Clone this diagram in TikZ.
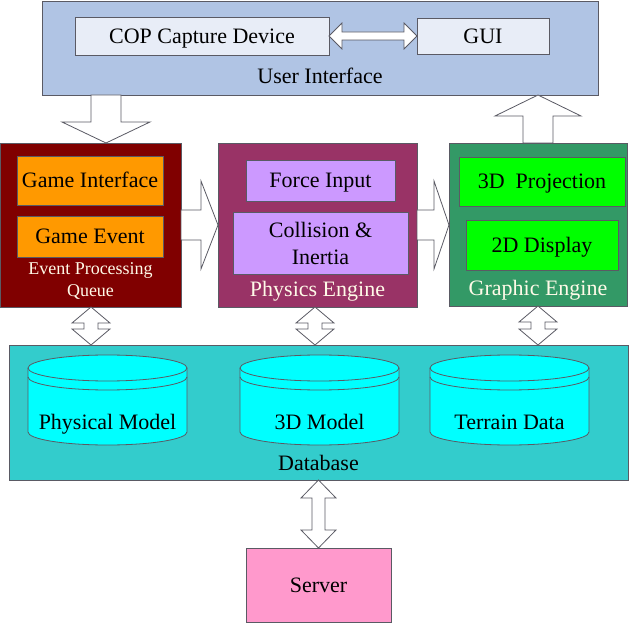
\documentclass[tikz,border=0pt]{standalone}
\usepackage{fontspec}
\setmainfont{Liberation Serif}
\usetikzlibrary{calc}
\definecolor{uiblue}{RGB}{176,196,228}
\definecolor{uilight}{RGB}{232,237,247}
\definecolor{epqred}{RGB}{128,0,0}
\definecolor{orangebox}{RGB}{255,153,0}
\definecolor{pepurple}{RGB}{153,51,102}
\definecolor{lav}{RGB}{204,153,255}
\definecolor{gegreen}{RGB}{51,153,102}
\definecolor{brightgreen}{RGB}{0,255,0}
\definecolor{dbteal}{RGB}{51,204,204}
\definecolor{cyanfill}{RGB}{0,255,255}
\definecolor{serverpink}{RGB}{255,153,204}
\definecolor{labelwhite}{RGB}{255,250,232}
\definecolor{edge}{RGB}{90,90,100}

\newcommand\vdbl[5]{% top, bottom, head half, shaft half, head length
  \draw[blk] let \p1=(#1), \p2=(#2) in
    (\x1,\y1) -- (\x1+#3pt,\y1-#5pt) -- (\x1+#4pt,\y1-#5pt) -- (\x1+#4pt,\y2+#5pt)
    -- (\x1+#3pt,\y2+#5pt) -- (\x1,\y2) -- (\x1-#3pt,\y2+#5pt) -- (\x1-#4pt,\y2+#5pt)
    -- (\x1-#4pt,\y1-#5pt) -- (\x1-#3pt,\y1-#5pt) -- cycle;}
\newcommand\hdbl[5]{% left, right, head half, shaft half, head length
  \draw[blk] let \p1=(#1), \p2=(#2) in
    (\x1,\y1) -- (\x1+#5pt,\y1+#3pt) -- (\x1+#5pt,\y1+#4pt) -- (\x2-#5pt,\y1+#4pt)
    -- (\x2-#5pt,\y1+#3pt) -- (\x2,\y1) -- (\x2-#5pt,\y1-#3pt) -- (\x2-#5pt,\y1-#4pt)
    -- (\x1+#5pt,\y1-#4pt) -- (\x1+#5pt,\y1-#3pt) -- cycle;}
\newcommand\vsgl[5]{% start (base), tip, head half, shaft half, head length (sign by direction)
  \draw[blk] let \p1=(#1), \p2=(#2), \n1={sign(\y2-\y1)} in
    (\x1-#4pt,\y1) -- (\x1-#4pt,\y2-\n1*#5pt) -- (\x1-#3pt,\y2-\n1*#5pt) -- (\x1,\y2)
    -- (\x1+#3pt,\y2-\n1*#5pt) -- (\x1+#4pt,\y2-\n1*#5pt) -- (\x1+#4pt,\y1) -- cycle;}
\newcommand\hsgl[5]{% start (base), tip, head half, shaft half, head length
  \draw[blk] let \p1=(#1), \p2=(#2) in
    (\x1,\y1+#4pt) -- (\x2-#5pt,\y1+#4pt) -- (\x2-#5pt,\y1+#3pt) -- (\x2,\y1)
    -- (\x2-#5pt,\y1-#3pt) -- (\x2-#5pt,\y1-#4pt) -- (\x1,\y1-#4pt) -- cycle;}
\newcommand\dbcyl[3]{% name, center x, label
  \path[fill=cyanfill, draw=edge, line width=0.8pt]
    (#2-79.5,368) -- (#2-79.5,432)
    arc[start angle=180, end angle=360, x radius=79.5pt, y radius=13pt]
    -- (#2+79.5,368)
    arc[start angle=0, end angle=180, x radius=79.5pt, y radius=13pt] -- cycle;
  \draw[edge, line width=0.8pt] (#2-79.5,368)
    arc[start angle=180, end angle=360, x radius=79.5pt, y radius=13pt];
  \draw[edge, line width=0.8pt] (#2-79.5,377)
    arc[start angle=180, end angle=360, x radius=79.5pt, y radius=13pt];
  \node[lbl] (#1) at (#2,422) {#3};}

\begin{document}
\begin{tikzpicture}[x=1pt, y=-1pt,
  frame/.style={draw=edge, line width=0.8pt, inner sep=0pt, outer sep=0pt},
  lbl/.style={inner sep=0pt, font=\fontsize{22}{27}\selectfont, text height=14.6pt, text depth=0pt},
  mlbl/.style={inner sep=0pt, align=center, font=\fontsize{22}{27}\selectfont},
  slbl/.style={inner sep=0pt, align=center, font=\fontsize{18}{21}\selectfont, text=labelwhite},
  blk/.style={draw=edge, fill=white, line width=0.8pt, line join=miter}]
\useasboundingbox (0,0) rectangle (630,623);

% User interface
\node[frame, fill=uiblue, minimum width=556pt, minimum height=94pt] (ui) at (320,48) {};
\node[frame, fill=uilight, minimum width=254pt, minimum height=38pt] (cop) at (202,36) {};
\node[lbl] (coplbl) at (cop.center) {COP Capture Device};
\node[frame, fill=uilight, minimum width=132pt, minimum height=36pt] (gui) at (483,36) {};
\node[lbl] (guilbl) at (gui.center) {GUI};
\node[lbl] (uilbl) at (320,76) {User Interface};
\hdbl{cop.east}{gui.west}{13}{4}{13}

% Event processing queue
\node[frame, fill=epqred, minimum width=181pt, minimum height=164pt] (epq) at (90.5,225) {};
\node[frame, fill=orangebox, minimum width=146pt, minimum height=49pt] (gi) at (90,180.5) {};
\node[lbl] (gilbl) at (gi.center) {Game Interface};
\node[frame, fill=orangebox, minimum width=146pt, minimum height=41pt] (ge1) at (90,236.5) {};
\node[lbl] (ge1lbl) at (ge1.center) {Game Event};
\node[slbl] (epqlbl) at (90.5,281) {Event Processing\\Queue};

% Physics engine
\node[frame, fill=pepurple, minimum width=199pt, minimum height=164pt] (pe) at (317.5,225) {};
\node[frame, fill=lav, minimum width=149pt, minimum height=41pt] (fi) at (320.5,180.5) {};
\node[lbl] (filbl) at (fi.center) {Force Input};
\node[frame, fill=lav, minimum width=175pt, minimum height=62pt] (ci) at (320.5,243) {};
\node[mlbl] (cilbl) at (ci.center) {Collision \&\\Inertia};
\node[lbl, text=labelwhite] (pelbl) at (317.5,289) {Physics Engine};

% Graphic engine
\node[frame, fill=gegreen, minimum width=178pt, minimum height=163pt] (gre) at (538,224.5) {};
\node[frame, fill=brightgreen, minimum width=166pt, minimum height=49pt] (pj) at (542,181.5) {};
\node[lbl] (pjlbl) at (pj.center) {3D\ \ Projection};
\node[frame, fill=brightgreen, minimum width=152pt, minimum height=50pt] (dd) at (542,245) {};
\node[lbl] (ddlbl) at (dd.center) {2D Display};
\node[lbl, text=labelwhite] (grelbl) at (538,288) {Graphic Engine};

% Database
\node[frame, fill=dbteal, minimum width=619pt, minimum height=135pt] (db) at (318.5,412.5) {};
\dbcyl{pm}{107.5}{Physical Model}
\dbcyl{tm}{319.5}{3D Model}
\dbcyl{td}{509.5}{Terrain Data}
\node[lbl] (dblbl) at (318.5,463) {Database};

% Server
\node[frame, fill=serverpink, minimum width=145pt, minimum height=74pt] (srv) at (318.5,585) {};
\node[lbl] (srvlbl) at (srv.center) {Server};

% Block arrows
\coordinate (dtop) at (106,95);
\coordinate (dtip) at (106,143);
\vsgl{dtop}{dtip}{44}{15}{21}
\vsgl{gre.north}{gre.north |- ui.south}{43}{15}{21}
\hsgl{epq.east}{pe.west}{44}{15}{17}
\hsgl{pe.east}{gre.west}{44}{15}{15}
\coordinate (a1t) at (91,307);
\coordinate (a1b) at (91,345);
\vdbl{a1t}{a1b}{19}{7}{16}
\coordinate (a2t) at (315,307);
\coordinate (a2b) at (315,345);
\vdbl{a2t}{a2b}{19}{7}{16}
\vdbl{gre.south}{gre.south |- db.north}{19}{7}{16}
\vdbl{db.south}{srv.north}{17.5}{6.5}{18}
\end{tikzpicture}
\end{document}
